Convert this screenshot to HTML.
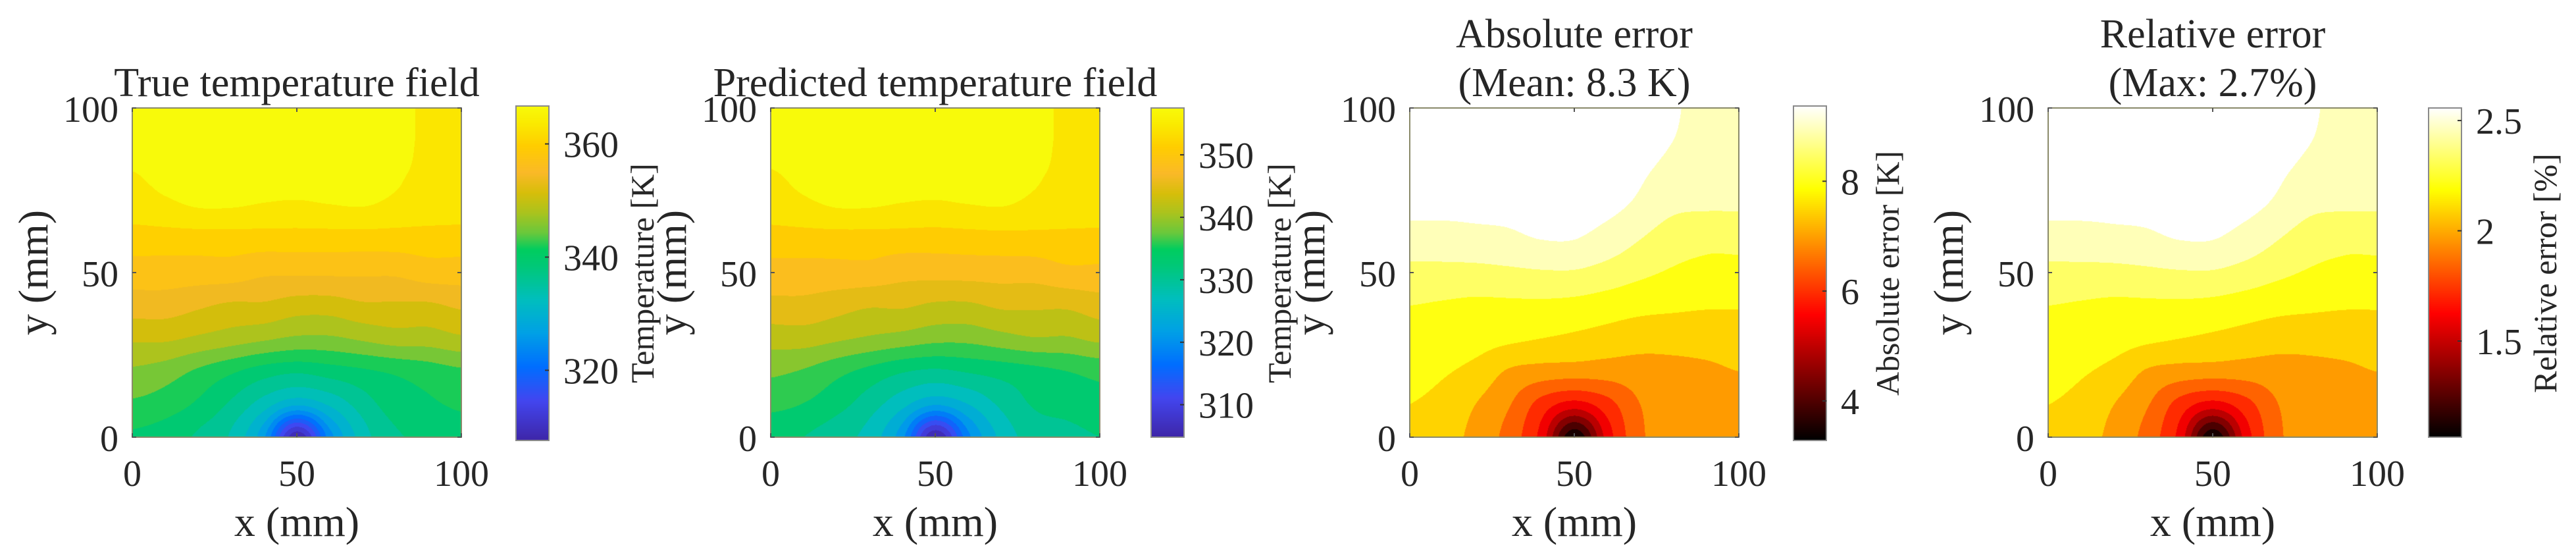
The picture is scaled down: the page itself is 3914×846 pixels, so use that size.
<!DOCTYPE html>
<html><head><meta charset="utf-8">
<style>
html,body{margin:0;padding:0;background:#fff;}
#root{position:relative;width:3914px;height:846px;overflow:hidden;background:#fff;}
canvas{position:absolute;}
svg{position:absolute;left:0;top:0;}
text{font-family:"Liberation Serif",serif;fill:#262626;}
</style></head>
<body>
<div id="root">
<svg id="ov" width="3914" height="846"></svg>
</div>
<script>
// ---------- data ----------
const xGrid = [0,10,20,30,40,50,60,70,80,90,100];
const yGrid = [0,10,20,30,40,50,60,70,80,90,100];
const trueTemp = [
 [340,339,337,334,326,308,324,333,337,338,339],
 [343,342,340,337,333,329,332,336,339,340,341],
 [346,345,343,341,339,338,339,340,341,342,343],
 [350,350,349,348,347,346,346,347,348,348,349],
 [354,354,353,352,352,351,351,352,352,352,353],
 [357,357,357,357,356,356,356,356,356,357,357],
 [360,360,360,360,360,360,360,360,360,360,360],
 [363,363.8,364.6,364.6,364.2,364.0,364.3,364.5,363.8,363.3,363.0],
 [364.4,365.3,365.6,365.6,365.5,365.5,365.6,365.5,364.8,364,363.8],
 [365.5,365.6,365.6,365.6,365.6,365.6,365.6,365.5,365,364.2,364],
 [365.5,365.6,365.6,365.6,365.6,365.6,365.6,365.5,365,364.2,364]];
const predTemp = [
 [332.4,331.5,329.7,327.2,320.4,304.7,318.6,326.3,329.8,330.6,331.5],
 [335.3,334.4,332.6,329.9,326.4,322.8,325.5,329.1,331.8,332.6,333.5],
 [338.1,337.2,335.4,333.6,331.8,330.9,331.8,332.7,333.6,334.5,335.4],
 [341.8,341.9,341.0,340.1,339.3,338.4,338.4,339.4,340.3,340.2,341.2],
 [345.6,345.6,344.7,343.8,343.9,343.0,343.0,344.0,344.0,344.0,345.0],
 [348.3,348.3,348.4,348.4,347.5,347.5,347.6,347.7,347.7,348.7,348.7],
 [351.1,351.1,351.1,351.1,351.0,350.9,351.1,351.3,351.4,351.5,351.5],
 [354.0,354.8,355.6,355.6,355.2,355.0,355.3,355.5,354.8,354.3,354.0],
 [355.3,356.2,356.6,356.6,356.5,356.5,356.6,356.5,355.8,355.0,354.8],
 [356.5,356.6,356.6,356.6,356.6,356.6,356.6,356.5,356.0,355.2,355.0],
 [356.5,356.6,356.6,356.6,356.6,356.6,356.6,356.5,356.0,355.2,355.0]];
const absErr = [
 [7.55,7.4,7.05,6.5,5.5,3.3,5.4,6.6,6.9,7.05,7.0],
 [7.7,7.55,7.2,6.75,6.0,5.5,6.0,6.7,7.0,7.1,7.1],
 [7.85,7.75,7.55,7.15,7.0,6.95,6.95,7.0,7.1,7.15,7.2],
 [8.0,7.95,7.9,7.8,7.7,7.6,7.5,7.4,7.35,7.35,7.35],
 [8.2,8.15,8.1,8.1,8.1,8.05,7.95,7.85,7.8,7.75,7.75],
 [8.55,8.55,8.55,8.6,8.65,8.65,8.5,8.3,8.15,8.1,8.1],
 [9.0,9.0,9.05,9.1,9.2,9.2,9.0,8.7,8.4,8.3,8.3],
 [9.3,9.3,9.3,9.3,9.35,9.35,9.3,9.1,8.8,8.75,8.75],
 [9.35,9.35,9.35,9.35,9.35,9.35,9.35,9.25,9.05,8.95,8.9],
 [9.35,9.35,9.35,9.35,9.35,9.35,9.35,9.35,9.2,9.0,9.0],
 [9.35,9.35,9.35,9.35,9.35,9.35,9.35,9.35,9.25,9.05,9.1]];
const relErr = [
 [2.111,2.074,1.988,1.854,1.608,1.069,1.584,1.878,1.952,1.988,1.976],
 [2.148,2.111,2.025,1.915,1.731,1.608,1.731,1.903,1.976,2.001,2.001],
 [2.185,2.160,2.111,2.013,1.976,1.964,1.964,1.976,2.001,2.013,2.025],
 [2.221,2.209,2.197,2.172,2.148,2.123,2.099,2.074,2.062,2.062,2.062],
 [2.270,2.258,2.246,2.246,2.246,2.234,2.209,2.185,2.172,2.160,2.160],
 [2.356,2.356,2.356,2.368,2.381,2.381,2.344,2.295,2.258,2.246,2.246],
 [2.467,2.467,2.479,2.491,2.516,2.516,2.467,2.393,2.319,2.295,2.295],
 [2.540,2.540,2.540,2.540,2.552,2.552,2.540,2.491,2.418,2.405,2.405],
 [2.552,2.552,2.552,2.552,2.552,2.552,2.552,2.528,2.479,2.454,2.442],
 [2.552,2.552,2.552,2.552,2.552,2.552,2.552,2.552,2.516,2.467,2.467],
 [2.552,2.552,2.552,2.552,2.552,2.552,2.552,2.552,2.528,2.479,2.491]];
const axisTicks = [0,50,100];
const cbTicks1 = [320,340,360];
const cbTicks2 = [310,320,330,340,350];
const cbTicks3 = [4,6,8];
const cbTicks4 = [1.5,2,2.5];
const cbRange1 = [307.6,366.7];
const cbRange2 = [304.8,357.5];
const cbRange3 = [3.28,9.37];
const cbRange4 = [1.064,2.557];

// ---------- colormaps ----------
const parulaStops = [[0,62,38,168],[0.12,66,70,240],[0.22,0,110,255],[0.32,0,160,230],[0.42,0,190,190],
 [0.52,0,200,120],[0.57,0,205,95],[0.62,105,200,60],[0.68,170,195,30],[0.74,215,190,10],
 [0.80,250,185,40],[0.88,255,205,0],[0.95,250,235,0],[1,248,250,10]];
function parula(t){t=Math.max(0,Math.min(1,t));
 for(let i=1;i<parulaStops.length;i++){const a=parulaStops[i-1],b=parulaStops[i];
  if(t<=b[0]){const f=(t-a[0])/(b[0]-a[0]);return [a[1]+(b[1]-a[1])*f,a[2]+(b[2]-a[2])*f,a[3]+(b[3]-a[3])*f];}}
 return [248,250,10];}
function hot(t){t=Math.max(0,Math.min(1,t));
 const c=v=>Math.max(0,Math.min(1,v));
 return [255*c(t/0.375),255*c((t-0.375)/0.375),255*c((t-0.75)/0.25)];}

function cr(p0,p1,p2,p3,t){return p1+0.5*t*(p2-p0+t*(2*p0-5*p1+4*p2-p3+t*(3*(p1-p2)+p3-p0)));}
function interp(grid,x,y){
 const fx=x/10, fy=y/10; const i=Math.min(9,Math.floor(fx)), j=Math.min(9,Math.floor(fy));
 const tx=fx-i, ty=fy-j;
 const cl=v=>Math.max(0,Math.min(10,v));
 const rows=[];
 for(let k=-1;k<=2;k++){const r=grid[cl(j+k)];
  rows.push(cr(r[cl(i-1)],r[cl(i)],r[cl(i+1)],r[cl(i+2)],tx));}
 return cr(rows[0],rows[1],rows[2],rows[3],ty);}

const root=document.getElementById('root');
const ov=document.getElementById('ov');
const NS='http://www.w3.org/2000/svg';
function sv(tag,attrs,parent){const e=document.createElementNS(NS,tag);for(const k in attrs)e.setAttribute(k,attrs[k]);(parent||ov).appendChild(e);return e;}
function txt(s,attrs,parent){const e=sv('text',attrs,parent);e.textContent=s;return e;}

const TOP=164, SIZE=500;
const panels=[
 {left:201,grid:trueTemp,cmap:parula,range:cbRange1,step:3,base:364.5,cbx:784,cbt:161,cbb:669,ticks:cbTicks1,title:['True temperature field'],label:'Temperature [K]',lx:976,ylx:52,name:'true-field'},
 {left:1171,grid:predTemp,cmap:parula,range:cbRange2,step:3,base:355.5,cbx:1749,cbt:164,cbb:664,ticks:cbTicks2,title:['Predicted temperature field'],label:'Temperature [K]',lx:1944,ylx:1022,name:'predicted-field'},
 {left:2142,grid:absErr,cmap:hot,range:cbRange3,step:0.5,base:9.2,cbx:2725,cbt:161,cbb:669,ticks:cbTicks3,title:['Absolute error','(Mean: 8.3 K)'],label:'Absolute error [K]',lx:2868,ylx:1992,name:'absolute-error'},
 {left:3112,grid:relErr,cmap:hot,range:cbRange4,step:0.1226,base:2.515,cbx:3690,cbt:164,cbb:664,ticks:cbTicks4,title:['Relative error','(Max: 2.7%)'],label:'Relative error [%]',lx:3867,ylx:2962,name:'relative-error'}
];

panels.forEach(p=>{
 const c=document.createElement('canvas');
 c.width=SIZE;c.height=SIZE;c.style.left=p.left+'px';c.style.top=TOP+'px';
 
 
 root.insertBefore(c,ov);
 const ctx=c.getContext('2d');const img=ctx.createImageData(SIZE,SIZE);
 const [vmin,vmax]=p.range;
 for(let py=0;py<SIZE;py++){for(let px=0;px<SIZE;px++){
  const x=(px+0.5)/SIZE*100, y=100-(py+0.5)/SIZE*100;
  const v=interp(p.grid,x,y);
  const k=Math.floor((v-p.base)/p.step);
  let lo=p.base+k*p.step, hi=lo+p.step;
  if(hi>vmax)hi=vmax; if(lo<vmin)lo=vmin;
  let q=(lo+hi)/2; if(k>=0) q=vmax;
  const col=p.cmap((q-vmin)/(vmax-vmin));
  const o=(py*SIZE+px)*4;img.data[o]=col[0];img.data[o+1]=col[1];img.data[o+2]=col[2];img.data[o+3]=255;}}
 ctx.putImageData(img,0,0);
 const h=p.cbb-p.cbt;
 const cb=document.createElement('canvas');cb.width=50;cb.height=h;
 cb.style.left=p.cbx+'px';cb.style.top=p.cbt+'px';
 
 
 root.insertBefore(cb,ov);
 const cctx=cb.getContext('2d');
 for(let yy=0;yy<h;yy++){const col=p.cmap(1-(yy+0.5)/h);cctx.fillStyle='rgb('+col.map(Math.round).join(',')+')';cctx.fillRect(0,yy,50,1);}
 const g=sv('g',{});
 
 
 sv('rect',{x:p.left,y:TOP,width:SIZE,height:SIZE,fill:'none',stroke:'#8a8a6a','stroke-width':2},g);
 const xs=v=>p.left+v/100*SIZE, ys=v=>TOP+SIZE-v/100*SIZE;
 axisTicks.forEach(t=>{
  sv('line',{x1:xs(t),y1:TOP+SIZE,x2:xs(t),y2:TOP+SIZE-6,stroke:'#555','stroke-width':2},g);
  sv('line',{x1:xs(t),y1:TOP,x2:xs(t),y2:TOP+6,stroke:'#555','stroke-width':2},g);
  sv('line',{x1:p.left,y1:ys(t),x2:p.left+6,y2:ys(t),stroke:'#555','stroke-width':2},g);
  sv('line',{x1:p.left+SIZE,y1:ys(t),x2:p.left+SIZE-6,y2:ys(t),stroke:'#555','stroke-width':2},g);
  const xl=txt(String(t),{x:xs(t),y:738,'font-size':56,'text-anchor':'middle'},g);
  
  
  const yl=txt(String(t),{x:p.left-21,y:ys(t)+21,'font-size':56,'text-anchor':'end'},g);
  
  
 });
 const xt=txt('x (mm)',{x:p.left+SIZE/2,y:814,'font-size':64,'text-anchor':'middle'},g);
 
 
 const yt=txt('y (mm)',{x:0,y:0,'font-size':64,'text-anchor':'middle',transform:'translate('+(p.ylx+20)+','+(TOP+SIZE/2)+') rotate(-90)'},g);
 
 
 if(p.title.length===1){
  const tt=txt(p.title[0],{x:p.left+SIZE/2,y:146,'font-size':62,'text-anchor':'middle'},g);
  
  
 } else {
  const t1=txt(p.title[0],{x:p.left+SIZE/2,y:72,'font-size':62,'text-anchor':'middle'},g);
  
  
  const t2=txt(p.title[1],{x:p.left+SIZE/2,y:146,'font-size':62,'text-anchor':'middle'},g);
  
  
 }
 sv('rect',{x:p.cbx,y:p.cbt,width:50,height:h,fill:'none',stroke:'#8a8a8a','stroke-width':2},g);
 const cs=v=>p.cbb-(v-vmin)/(vmax-vmin)*h;
 p.ticks.forEach(t=>{
  sv('line',{x1:p.cbx+50,y1:cs(t),x2:p.cbx+44,y2:cs(t),stroke:'#333','stroke-width':2},g);
  const cl=txt(String(t),{x:p.cbx+72,y:cs(t)+20,'font-size':56},g);
  
  
 });
 const cbl=txt(p.label,{x:0,y:0,'font-size':50,'text-anchor':'middle',transform:'translate('+(p.lx+17)+',415) rotate(-90)'},g);
 
 
});
</script>
</body></html>
